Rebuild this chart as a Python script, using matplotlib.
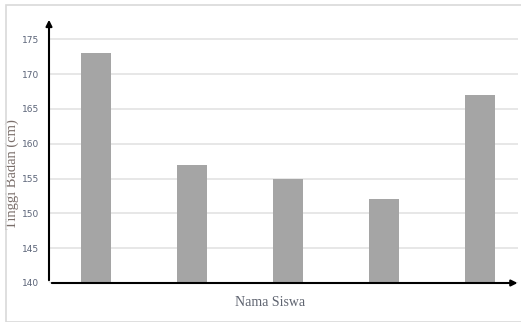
import numpy as np
import matplotlib.pyplot as plt
from matplotlib.patches import Rectangle

# Student heights
siswa = ['A', 'B', 'C', 'D', 'E']
tinggi = [173, 157, 155, 152, 167]
yticks = [140, 145, 150, 155, 160, 165, 170, 175]

fig = plt.figure(figsize=(5.21, 3.22), dpi=100)
fig.patches.append(Rectangle((6/521, 0), 1.0, 1 - 5/322, transform=fig.transFigure,
                             fill=False, edgecolor='#d9d9d9', lw=1.2))

ax = fig.add_axes([49/521, 39/322, 469/521, 266/322])
x = np.arange(len(siswa))
ax.bar(x, tinggi, width=0.31, color='#a5a5a5', zorder=3)

ax.set_xlim(-0.49, 4.4)
ax.set_ylim(140, 178.2)
ax.set_yticks(yticks)
ax.set_xticks([])
ax.tick_params(axis='y', length=0, labelsize=6.5, labelcolor='#5b6478', pad=7)
ax.grid(axis='y', color='#e3e3e3', lw=1.2, zorder=0)
for s in ax.spines.values():
    s.set_visible(False)

# axis arrows
ax.annotate('', xy=(0, 1), xytext=(0, 0), xycoords='axes fraction',
            arrowprops=dict(arrowstyle='-|>', color='black', lw=1.5, mutation_scale=9))
ax.annotate('', xy=(1.005, 0), xytext=(0, 0), xycoords='axes fraction',
            arrowprops=dict(arrowstyle='-|>', color='black', lw=1.5, mutation_scale=9))

ax.set_ylabel('Tinggi Badan (cm)', family='Liberation Serif', fontsize=10.5,
              color='#7a6e6a')
ax.yaxis.set_label_coords(-0.063, 0.41)
fig.text(270/521, 1 - 303/322, 'Nama Siswa', family='Liberation Serif', fontsize=10,
         color='#5f6470', ha='center', va='center')

fig.savefig('out.png', dpi=100)
